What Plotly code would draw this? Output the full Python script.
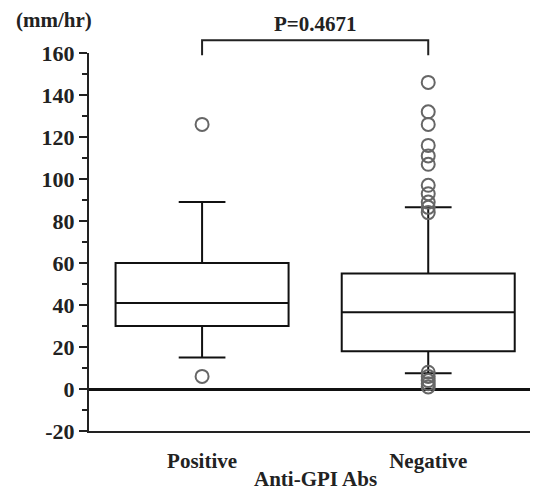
import plotly.graph_objects as go

categories = ["Positive", "Negative"]
q1 = [30, 18]
median = [41, 36.5]
q3 = [60, 55]
lower_fence = [15, 7.5]
upper_fence = [89, 86.5]
outliers_pos = [126, 6]
outliers_neg = [146, 132, 126, 116, 111, 107, 97, 93, 89, 86.5, 84, 8, 6, 4, 2.5, 1]
y_tick_vals = [-20, 0, 20, 40, 60, 80, 100, 120, 140, 160]
p_text = "P=0.4671"
x_title = "Anti-GPI Abs"
y_unit = "(mm/hr)"

xpos = [0, 1]
FONT = "Liberation Serif"

fig = go.Figure()
fig.add_trace(go.Box(
    x=xpos, q1=q1, median=median, q3=q3,
    lowerfence=lower_fence, upperfence=upper_fence,
    width=0.765, whiskerwidth=0.27, boxpoints=False,
    line=dict(color="#111", width=2), fillcolor="rgba(0,0,0,0)",
    showlegend=False, hoverinfo="skip",
))
out_x = [xpos[0]] * len(outliers_pos) + [xpos[1]] * len(outliers_neg)
out_y = outliers_pos + outliers_neg
fig.add_trace(go.Scatter(
    x=out_x, y=out_y, mode="markers",
    marker=dict(symbol="circle-open", size=13, color="#666", line=dict(width=2, color="#666")),
    showlegend=False, cliponaxis=False,
))

x0, x1 = -0.5, 1.45
def to_paper(v):
    return (v - x0) / (x1 - x0)

bx0, bx1 = to_paper(xpos[0]), to_paper(xpos[1])
fig.add_shape(type="path", xref="paper", yref="paper",
              path=f"M {bx0},0.994 L {bx0},1.034 L {bx1},1.034 L {bx1},0.994",
              line=dict(color="#222", width=2))
fig.add_annotation(text=f"<b>{p_text}</b>", xref="paper", yref="paper",
                   x=(bx0 + bx1) / 2, y=1.076, yanchor="middle", showarrow=False,
                   font=dict(family=FONT, size=21, color="#222"))
fig.add_annotation(text=f"<b>{y_unit}</b>", xref="paper", yref="paper",
                   x=-0.17, y=1.086, xanchor="left", yanchor="middle", showarrow=False,
                   font=dict(family=FONT, size=21, color="#222"))
fig.add_annotation(text=f"<b>{x_title}</b>", xref="paper", yref="paper",
                   x=(bx0 + bx1) / 2, y=-0.127, yanchor="middle", showarrow=False,
                   font=dict(family=FONT, size=21, color="#222"))

fig.update_layout(
    width=542, height=494,
    margin=dict(l=81, r=20, t=45, b=71, autoexpand=False),
    plot_bgcolor="white", paper_bgcolor="white",
    font=dict(family=FONT, size=21, color="#222"),
    xaxis=dict(range=[x0, x1], tickvals=xpos, ticktext=[f"<b>{c}</b>" for c in categories],
               showline=True, linecolor="#222", linewidth=2, ticks="", showgrid=False,
               zeroline=False, ticklabelstandoff=10, automargin=False,
               tickfont=dict(size=21)),
    yaxis=dict(range=[-20, 160], tickvals=y_tick_vals,
               ticktext=[f"<b>{v}</b>" for v in y_tick_vals],
               showline=True, linecolor="#222", linewidth=2, automargin=False,
               ticks="outside", ticklen=8, tickwidth=2, tickcolor="#222",
               tickfont=dict(size=22),
               minor=dict(dtick=10, ticks="outside", ticklen=5, tickwidth=2, tickcolor="#222"),
               showgrid=False, zeroline=True, zerolinecolor="#111", zerolinewidth=3),
)

fig.write_html("out.html")
